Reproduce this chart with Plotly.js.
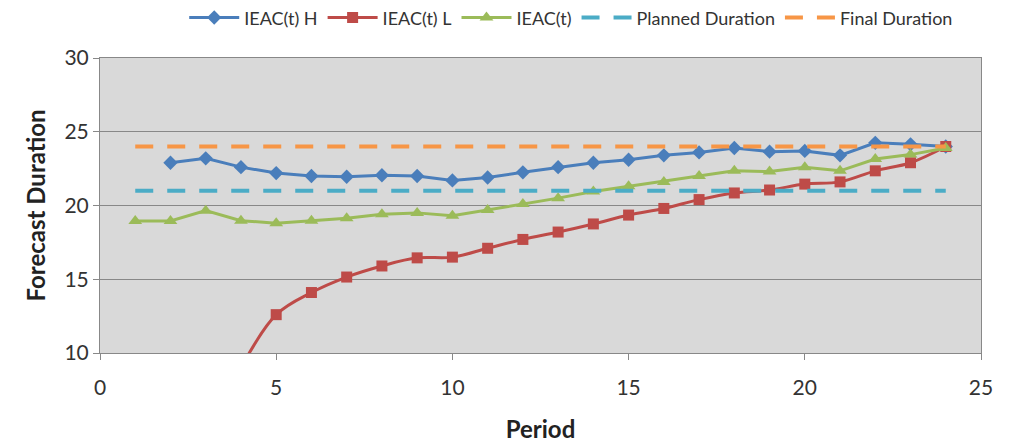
<!DOCTYPE html>
<html><head><meta charset="utf-8">
<script src="https://cdn.plot.ly/plotly-3.0.1.min.js"></script>
<style>body{margin:0;background:#fff}#chart{width:1011px;height:445px}</style>
</head><body><div id="chart"></div>
<script>
const periodsH = [2,3,4,5,6,7,8,9,10,11,12,13,14,15,16,17,18,19,20,21,22,23,24];
const ieacH = [22.9,23.2,22.6,22.2,22.0,21.95,22.05,22.0,21.7,21.9,22.25,22.6,22.9,23.1,23.4,23.6,23.9,23.65,23.7,23.4,24.25,24.15,24.0];
const periodsL = [4,5,6,7,8,9,10,11,12,13,14,15,16,17,18,19,20,21,22,23,24];
const ieacL = [9.0,12.6,14.1,15.15,15.9,16.45,16.5,17.1,17.7,18.2,18.75,19.35,19.8,20.4,20.85,21.05,21.45,21.6,22.35,22.9,24.0];
const periodsT = [1,2,3,4,5,6,7,8,9,10,11,12,13,14,15,16,17,18,19,20,21,22,23,24];
const ieacT = [18.95,18.95,19.65,18.97,18.8,18.97,19.13,19.4,19.5,19.3,19.7,20.1,20.5,20.95,21.3,21.6,22.0,22.35,22.3,22.6,22.35,23.15,23.45,23.9];
const durationPeriods = [1,24];
const plannedDuration = [21,21];
const finalDuration = [24,24];

const font = "Lato, 'Open Sans', sans-serif";
const traces = [
 {x:periodsH,y:ieacH,name:'IEAC(t) H',mode:'lines+markers',line:{color:'#4A7EBB',width:3},marker:{symbol:'diamond',size:11,color:'#4A7EBB'}},
 {x:periodsL,y:ieacL,name:'IEAC(t) L',mode:'lines+markers',line:{color:'#BE4B48',width:3,shape:'spline',smoothing:1},marker:{symbol:'square',size:11,color:'#BE4B48'}},
 {x:periodsT,y:ieacT,name:'IEAC(t)',mode:'lines+markers',line:{color:'#9BBB59',width:3},marker:{symbol:'triangle-up',size:12,color:'#9BBB59'}},
 {x:durationPeriods,y:plannedDuration,name:'Planned Duration',mode:'lines',line:{color:'#4BACC6',width:4,dash:'18px,14px'}},
 {x:durationPeriods,y:finalDuration,name:'Final Duration',mode:'lines',line:{color:'#F79646',width:4,dash:'18px,14px'}}
];
const layout = {
 width:1011,height:445,
 margin:{l:100,r:30,t:58,b:92,autoexpand:false},
 paper_bgcolor:'#ffffff',plot_bgcolor:'#D9D9D9',
 font:{family:font,color:'#333'},
 showlegend:true,
 legend:{orientation:'h',x:0.565,xanchor:'center',xref:'container',y:0.96,yanchor:'middle',yref:'container',font:{size:18,color:'#333'},bgcolor:'rgba(0,0,0,0)',itemwidth:50},
 xaxis:{range:[0,25],dtick:5,tick0:0,ticks:'outside',ticklen:6,tickcolor:'#888',showgrid:false,zeroline:false,
   showline:true,linecolor:'#888',linewidth:1,mirror:true,tickfont:{size:21,color:'#333'},ticklabelstandoff:10,
   title:{text:'<b>Period</b>',font:{size:24,color:'#222'},standoff:22}},
 yaxis:{range:[10,30],dtick:5,ticks:'outside',ticklen:6,tickcolor:'#888',showgrid:true,gridcolor:'#888888',gridwidth:1,zeroline:false,
   showline:true,linecolor:'#888',linewidth:1,mirror:true,tickfont:{size:21,color:'#333'},
   title:{text:'<b>Forecast Duration</b>',font:{size:24,color:'#222'},standoff:12}}
};
Plotly.newPlot('chart',traces,layout,{displayModeBar:false,staticPlot:true});
</script></body></html>
